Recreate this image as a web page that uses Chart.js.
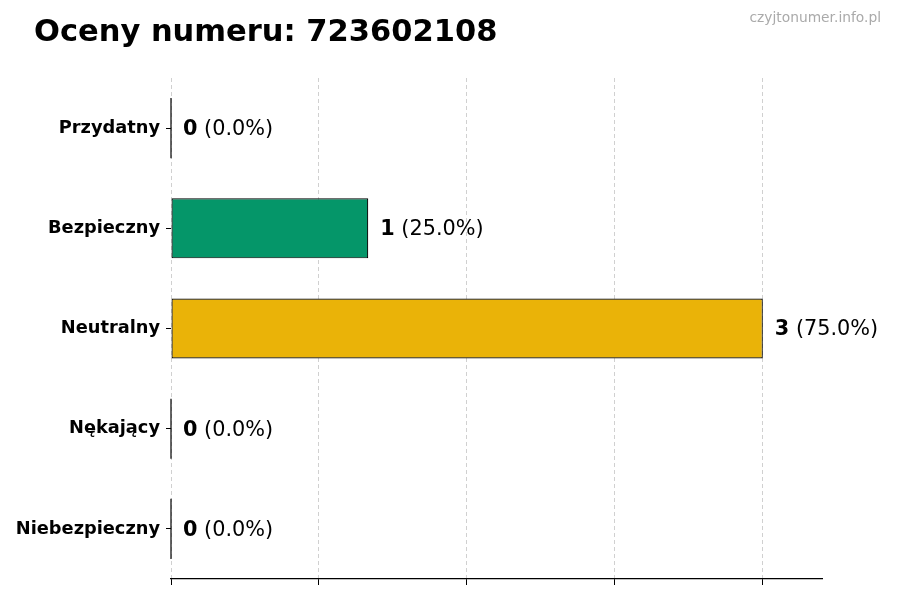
<!DOCTYPE html>
<html>
<head>
<meta charset="utf-8">
<script src="https://cdn.jsdelivr.net/npm/chart.js@4/dist/chart.umd.min.js"></script>
<style>
  html, body { margin: 0; padding: 0; background: #fff; }
  #wrap { width: 900px; height: 600px; position: relative; }
</style>
</head>
<body>
<div id="wrap"><canvas id="ratingsChart"></canvas></div>
<script>
const categories = ['Przydatny', 'Bezpieczny', 'Neutralny', 'Nękający', 'Niebezpieczny']
const counts = [0, 1, 3, 0, 0]
const percents = [0.0, 25.0, 75.0, 0.0, 0.0]
const barColors = ['#2563eb', '#059669', '#eab308', '#f97316', '#dc2626']
const xTickValues = [0, 0.75, 1.5, 2.25, 3]
const xMax = 3.3
const chartTitle = 'Oceny numeru: 723602108'
const watermark = 'czyjtonumer.info.pl'

const FONT = "'DejaVu Sans', sans-serif"

// title, watermark, value labels and the thin edge of empty bars
const decorations = {
  id: 'decorations',
  afterDatasetsDraw(chart) {
    const ctx = chart.ctx
    const meta = chart.getDatasetMeta(0)
    ctx.save()
    meta.data.forEach((bar, i) => {
      const half = bar.height / 2
      if (counts[i] === 0) {
        ctx.strokeStyle = '#000'
        ctx.lineWidth = 1.2
        ctx.beginPath()
        ctx.moveTo(bar.base, bar.y - half)
        ctx.lineTo(bar.base, bar.y + half)
        ctx.stroke()
      }
      const x0 = bar.x + 12
      const y0 = bar.y + 1.5
      ctx.textBaseline = 'middle'
      ctx.textAlign = 'left'
      ctx.fillStyle = '#000'
      ctx.font = `bold 20.8px ${FONT}`
      const num = String(counts[i])
      ctx.fillText(num, x0, y0)
      const w = ctx.measureText(num).width
      ctx.font = `20.8px ${FONT}`
      ctx.fillText(` (${percents[i].toFixed(1)}%)`, x0 + w, y0)
    })
    ctx.restore()
  },
  afterDraw(chart) {
    const ctx = chart.ctx
    ctx.save()
    ctx.textBaseline = 'alphabetic'
    ctx.textAlign = 'left'
    ctx.fillStyle = '#000'
    ctx.font = `bold 30.5px ${FONT}`
    ctx.fillText(chartTitle, 34, 41)
    ctx.textAlign = 'right'
    ctx.fillStyle = '#aaaaaa'
    ctx.font = `13.8px ${FONT}`
    ctx.fillText(watermark, 881, 22)
    ctx.restore()
  },
}

new Chart(document.getElementById('ratingsChart').getContext('2d'), {
  type: 'bar',
  data: {
    labels: categories,
    datasets: [
      {
        data: counts,
        backgroundColor: barColors,
        borderColor: '#000',
        borderWidth: 1.2,
        borderSkipped: false,
        barPercentage: 0.6,
        categoryPercentage: 1,
      },
    ],
  },
  options: {
    indexAxis: 'y',
    responsive: true,
    maintainAspectRatio: false,
    animation: false,
    layout: {
      padding: { top: 78, left: 0, right: 78, bottom: 0 },
    },
    scales: {
      x: {
        min: 0,
        max: xMax,
        afterBuildTicks: (scale) => {
          scale.ticks = xTickValues.map((v) => ({ value: v }))
        },
        afterFit: (scale) => {
          scale.height = 21
        },
        ticks: { display: false },
        grid: {
          color: '#d0d0d0',
          lineWidth: 1,
          drawTicks: true,
          tickLength: 6,
          tickColor: '#000',
          tickWidth: 1,
        },
        border: { display: true, color: '#000', width: 1.2, dash: [4, 3] },
      },
      y: {
        afterFit: (scale) => {
          scale.width = 171
        },
        ticks: {
          color: '#000',
          padding: 6,
          font: { family: FONT, size: 17.8, weight: 'bold' },
        },
        grid: {
          offset: false,
          drawOnChartArea: false,
          drawTicks: true,
          tickLength: 5,
          tickColor: '#000',
        },
        border: { display: false },
      },
    },
    plugins: {
      legend: { display: false },
      tooltip: { enabled: false },
    },
  },
  plugins: [decorations],
})
</script>
</body>
</html>
